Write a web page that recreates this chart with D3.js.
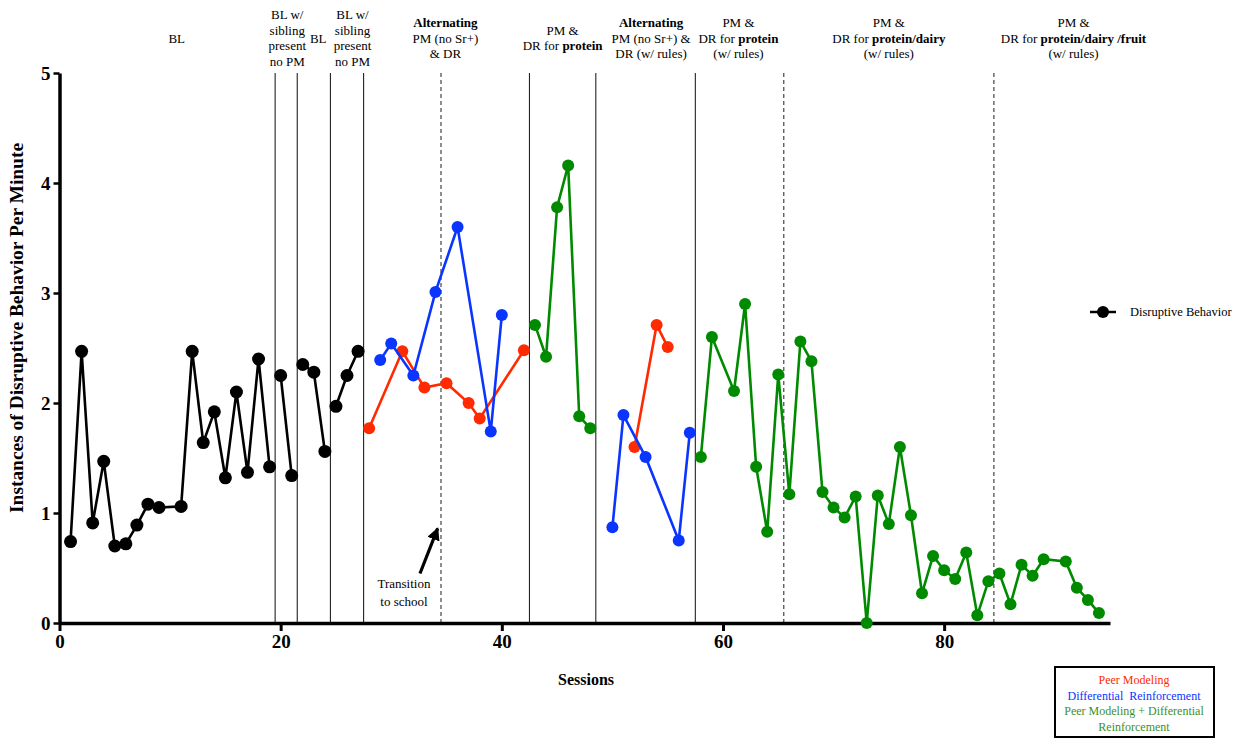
<!DOCTYPE html>
<html>
<head>
<meta charset="utf-8">
<script src="https://cdn.jsdelivr.net/npm/d3@7"></script>
<style>
  body { margin: 0; background: #fff; }
  svg { font-family: "Liberation Serif", "Times New Roman", serif; }
</style>
</head>
<body>
<svg id="canvas" width="1242" height="740"></svg>
<script>
// baseline / sibling phases (black)
const blackSessions = [1,2,3,4,5,6,7,8,9,11,12,13,14,15,16,17,18,19,20,21,22,23,24,25,26,27];
const blackValues = [0.74,2.47,0.91,1.47,0.70,0.72,0.89,1.08,1.05,1.06,2.47,1.64,1.92,1.32,2.10,1.37,2.40,1.42,2.25,1.34,2.35,2.28,1.56,1.97,2.25,2.47];

// peer modeling (red)
const redSessions = [28,31,33,35,37,38,42,52,54,55];
const redValues = [1.77,2.47,2.14,2.18,2.00,1.86,2.48,1.60,2.71,2.51];

// differential reinforcement (blue)
const blueSessions = [29,30,32,34,36,39,40,50,51,53,56,57];
const blueValues = [2.39,2.54,2.25,3.01,3.60,1.74,2.80,0.87,1.89,1.51,0.75,1.73];

// PM + DR (green)
const greenSessions = [43,44,45,46,47,48,58,59,61,62,63,64,65,66,67,68,69,70,71,72,73,74,75,76,77,78,79,80,81,82,83,84,85,86,87,88,89,91,92,93,94];
const greenValues = [2.71,2.42,3.78,4.16,1.88,1.77,1.51,2.60,2.11,2.90,1.42,0.83,2.26,1.17,2.56,2.38,1.19,1.05,0.96,1.15,0.00,1.16,0.90,1.60,0.98,0.27,0.61,0.48,0.40,0.64,0.07,0.38,0.45,0.17,0.53,0.43,0.58,0.56,0.32,0.21,0.09];

const phaseLines = [19.5,21.5,24.5,27.5,34.5,42.5,48.5,57.5,65.5,84.5];
const phaseDashed = [false,false,false,false,true,false,false,false,true,true];

const phaseLabelX = [10.6,20.6,23.4,26.5,34.9,45.5,53.5,61.4,75.0,91.7];
const phaseLabels = [
  ['BL'],
  ['BL w/','sibling','present','no PM'],
  ['BL'],
  ['BL w/','sibling','present','no PM'],
  ['**Alternating**','PM (no Sr+)','& DR'],
  ['PM &','DR for **protein**'],
  ['**Alternating**','PM (no Sr+) &','DR (w/ rules)'],
  ['PM &','DR for **protein**','(w/ rules)'],
  ['PM &','DR for **protein/dairy**','(w/ rules)'],
  ['PM &','DR for **protein/dairy /fruit**','(w/ rules)']
];

const xTicks = [0,20,40,60,80];
const yTicks = [0,1,2,3,4,5];

const svg = d3.select('#canvas');

const x = d3.scaleLinear().domain([0, 95]).range([59.5, 1110]);
const y = d3.scaleLinear().domain([0, 5]).range([623, 73]);

// phase change lines
svg.append('g')
  .selectAll('line')
  .data(phaseLines)
  .enter()
  .append('line')
  .attr('x1', d => x(d))
  .attr('x2', d => x(d))
  .attr('y1', y(5))
  .attr('y2', y(0))
  .attr('stroke', (d, i) => phaseDashed[i] ? '#333' : '#222')
  .attr('stroke-width', 1.1)
  .attr('stroke-dasharray', (d, i) => phaseDashed[i] ? '4,3' : null);

// phase labels
const labelGroup = svg.append('g').attr('font-size', 13).attr('text-anchor', 'middle');
phaseLabels.forEach((lines, i) => {
  const lh = 15.5;
  const top = 38 - (lines.length - 1) * lh / 2;
  lines.forEach((ln, j) => {
    const t = labelGroup.append('text')
      .attr('x', x(phaseLabelX[i]))
      .attr('y', top + j * lh + 4.5);
    ln.split('**').forEach((part, k) => {
      if (part === '') return;
      t.append('tspan')
        .attr('font-weight', k % 2 === 1 ? 'bold' : 'normal')
        .text(part);
    });
  });
});

// axes
const yAxis = d3.axisLeft(y).tickValues(yTicks).tickFormat(d3.format('d'))
  .tickSize(6).tickSizeOuter(0).tickPadding(3);
const yG = svg.append('g').attr('transform', 'translate(' + x(0) + ',0)').call(yAxis);
yG.select('.domain').attr('stroke-width', 3.5);
yG.selectAll('.tick line').attr('stroke-width', 2.5);
yG.selectAll('.tick text')
  .attr('font-family', '"Liberation Serif", serif')
  .attr('font-weight', 'bold')
  .attr('font-size', 19)
  .attr('fill', '#000');

const xAxis = d3.axisBottom(x).tickValues(xTicks).tickFormat(d3.format('d'))
  .tickSize(8).tickSizeOuter(0).tickPadding(4);
const xG = svg.append('g').attr('transform', 'translate(0,' + y(0) + ')').call(xAxis);
xG.select('.domain').attr('stroke-width', 3.5);
xG.selectAll('.tick line').attr('stroke-width', 3);
xG.selectAll('.tick text')
  .attr('font-family', '"Liberation Serif", serif')
  .attr('font-weight', 'bold')
  .attr('font-size', 19)
  .attr('fill', '#000');

// axis titles
svg.append('text')
  .attr('x', 586)
  .attr('y', 685)
  .attr('text-anchor', 'middle')
  .attr('font-weight', 'bold')
  .attr('font-size', 16)
  .text('Sessions');

svg.append('text')
  .attr('transform', 'translate(23,328) rotate(-90)')
  .attr('text-anchor', 'middle')
  .attr('font-weight', 'bold')
  .attr('font-size', 18)
  .attr('textLength', 370)
  .attr('lengthAdjust', 'spacingAndGlyphs')
  .text('Instances of Disruptive Behavior Per Minute');

// split a series into segments at the solid phase lines
const solidLines = phaseLines.filter((d, i) => !phaseDashed[i]);
const segmentsOf = (sessions, values) => {
  const segs = [];
  sessions.forEach((s, i) => {
    const phase = solidLines.filter(l => l < s).length;
    let seg = segs.find(g => g.phase === phase);
    if (!seg) { seg = { phase: phase, pts: [] }; segs.push(seg); }
    seg.pts.push([s, values[i]]);
  });
  return segs;
};

const line = d3.line().x(d => x(d[0])).y(d => y(d[1]));

const drawSeries = (sessions, values, color, r, w) => {
  const g = svg.append('g');
  g.selectAll('path')
    .data(segmentsOf(sessions, values))
    .enter()
    .append('path')
    .attr('d', seg => line(seg.pts))
    .attr('fill', 'none')
    .attr('stroke', color)
    .attr('stroke-width', w);
  g.selectAll('circle')
    .data(sessions.map((s, i) => [s, values[i]]))
    .enter()
    .append('circle')
    .attr('cx', d => x(d[0]))
    .attr('cy', d => y(d[1]))
    .attr('r', r)
    .attr('fill', color);
};

drawSeries(blackSessions, blackValues, '#000', 6.5, 2.6);
drawSeries(greenSessions, greenValues, '#008a00', 6, 2.6);
drawSeries(redSessions, redValues, '#ff2a00', 6, 2.6);
drawSeries(blueSessions, blueValues, '#0a35ff', 6, 2.6);

// transition annotation
svg.append('defs').append('marker')
  .attr('id', 'head')
  .attr('viewBox', '0 0 10 10')
  .attr('refX', 9).attr('refY', 5)
  .attr('markerWidth', 4).attr('markerHeight', 4)
  .attr('orient', 'auto')
  .append('path').attr('d', 'M0,0 L10,5 L0,10 Z').attr('fill', '#000');

svg.append('line')
  .attr('x1', x(32.6)).attr('y1', y(0.45))
  .attr('x2', x(34.2)).attr('y2', y(0.86))
  .attr('stroke', '#000')
  .attr('stroke-width', 3.2)
  .attr('marker-end', 'url(#head)');

svg.append('g').attr('font-size', 13).attr('text-anchor', 'middle')
  .selectAll('text')
  .data(['Transition', 'to school'])
  .enter()
  .append('text')
  .attr('x', x(31.15))
  .attr('y', (d, i) => 588 + i * 18)
  .text(d => d);

// series legend
svg.append('line').attr('x1', 1090).attr('x2', 1116).attr('y1', 312).attr('y2', 312)
  .attr('stroke', '#000').attr('stroke-width', 2.5);
svg.append('circle').attr('cx', 1103).attr('cy', 312).attr('r', 6).attr('fill', '#000');
svg.append('text').attr('x', 1130).attr('y', 316).attr('font-size', 12.5).text('Disruptive Behavior');

// colour key box
svg.append('rect')
  .attr('x', 1055).attr('y', 667).attr('width', 159).attr('height', 70)
  .attr('fill', '#fff').attr('stroke', '#000').attr('stroke-width', 2);

const keyLines = ['Peer Modeling', 'Differential  Reinforcement', 'Peer Modeling + Differential', 'Reinforcement'];
const keyColors = ['#ff2a00', '#0a35ff', '#3d8f1f', '#3d8f1f'];
svg.append('g').attr('font-size', 12).attr('text-anchor', 'middle')
  .selectAll('text')
  .data(keyLines)
  .enter()
  .append('text')
  .attr('x', 1134)
  .attr('y', (d, i) => 684 + i * 15.5)
  .attr('fill', (d, i) => keyColors[i])
  .attr('xml:space', 'preserve')
  .style('white-space', 'pre')
  .text(d => d);
</script>
</body>
</html>
